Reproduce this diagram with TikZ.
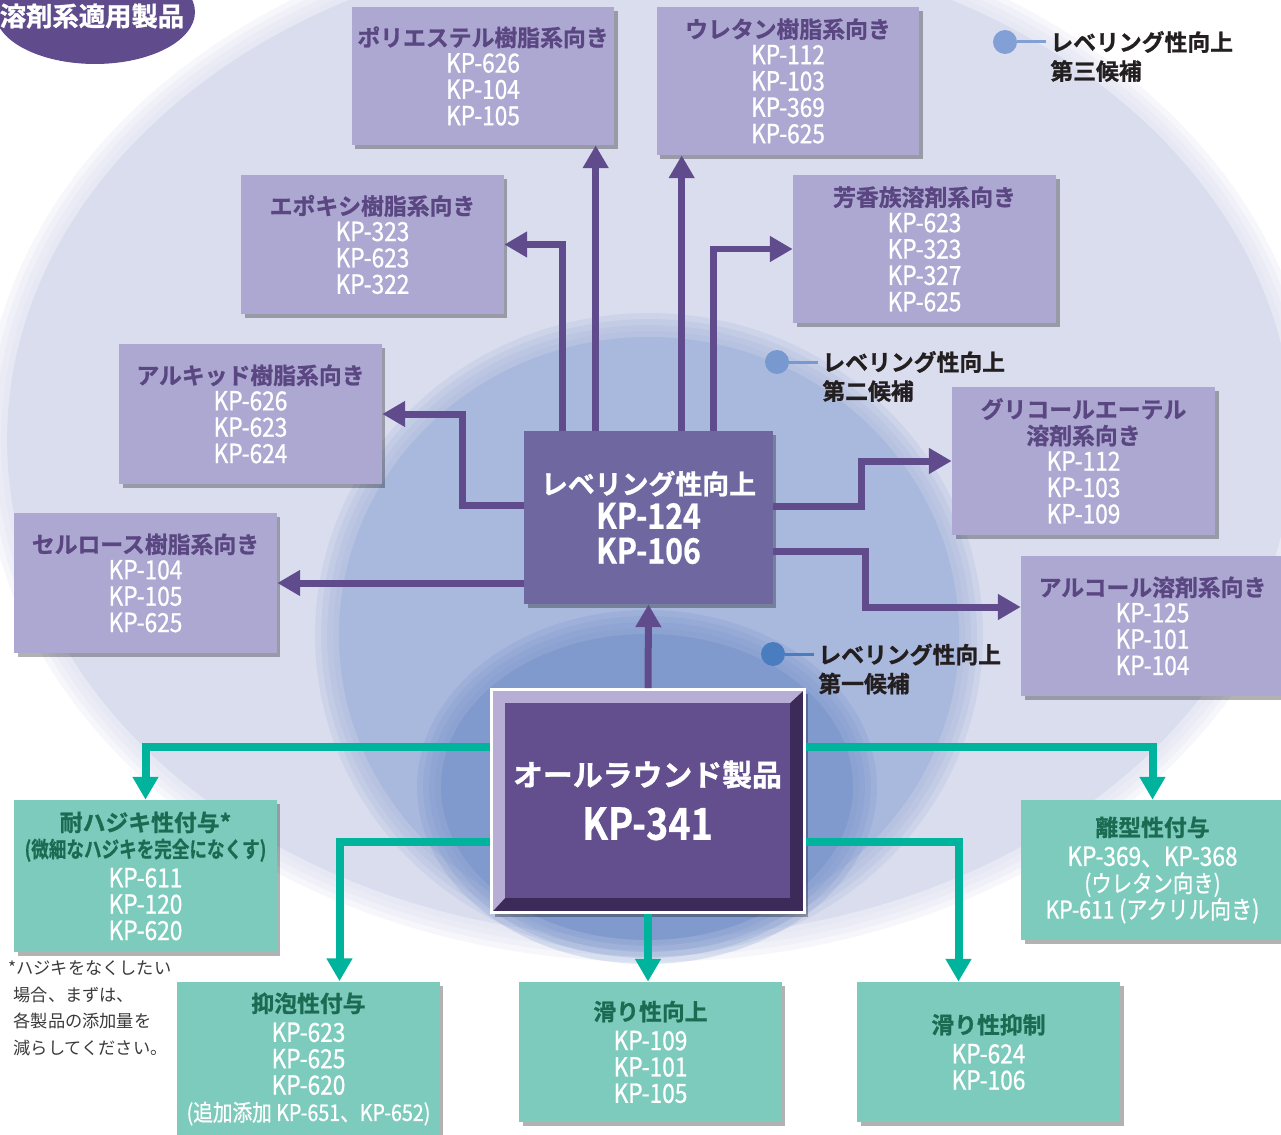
\documentclass[tikz,border=0pt]{standalone}
\usepackage{fontspec}
\setmainfont{Noto Sans CJK JP}[BoldFont={Noto Sans CJK JP Bold},BoldFeatures={FakeBold=1}]
\newfontfamily\kpf{Noto Sans CJK JP}[FakeStretch=0.86,FakeBold=0.8]
\newfontfamily\kpb{Noto Sans CJK JP Bold}[FakeStretch=0.86,FakeBold=0.6]
\newfontfamily\jpbc{Noto Sans CJK JP Bold}[FakeStretch=0.8,FakeBold=0.6]
\usetikzlibrary{arrows.meta,calc,shadows,positioning}

\definecolor{bgout}{HTML}{DADDEE}
\definecolor{bgmid}{HTML}{A9B8DD}
\definecolor{bgin}{HTML}{819ACE}
\definecolor{pboxc}{HTML}{ADA8D2}
\definecolor{ptitle}{HTML}{5A4782}
\definecolor{parrowc}{HTML}{604C8D}
\definecolor{levc}{HTML}{6F68A0}
\definecolor{prodc}{HTML}{634E8E}
\definecolor{bevlt}{HTML}{B8ADD5}
\definecolor{bevdk}{HTML}{3C2A58}
\definecolor{gboxc}{HTML}{7DCBBC}
\definecolor{gtitle}{HTML}{1B6B52}
\definecolor{garrowc}{HTML}{00B39D}
\definecolor{legc}{HTML}{231F20}
\definecolor{dotlt}{HTML}{82A0D5}
\definecolor{dotmid}{HTML}{7898D0}
\definecolor{dotdk}{HTML}{4A7CC0}
\definecolor{notec}{HTML}{3A3A3A}

\newcommand{\pttl}[1]{{\rmfamily\bfseries\fontsize{13}{15}\selectfont\color{ptitle}#1}}
\newcommand{\gttl}[1]{{\rmfamily\bfseries\fontsize{13}{15}\selectfont\color{gtitle}#1}}

\begin{document}
\begin{tikzpicture}[x=0.02cm,y=-0.02cm,>={Triangle[width=14pt,length=13pt]}]
  \tikzstyle{pbox}=[fill=pboxc,text=white,align=center,inner sep=0pt,
    minimum width=5.26cm,font=\kpf\fontsize{15}{15}\selectfont,
    drop shadow={shadow xshift=2pt,shadow yshift=-2.5pt,opacity=.3,fill=black}]
  \tikzstyle{gbox}=[pbox,fill=gboxc]
  \tikzstyle{parrow}=[->,draw=parrowc,line width=0.14cm]
  \tikzstyle{garrow}=[->,draw=garrowc,line width=0.16cm]
  \tikzstyle{legdot}=[circle,inner sep=0pt,minimum size=0.48cm]
  \tikzstyle{legline}=[line width=0.06cm]
  \tikzstyle{legtext}=[anchor=west,align=left,inner sep=0pt,text=legc,
    font=\bfseries\fontsize{13}{16.5}\selectfont]

  \clip (0,0) rectangle (1281,1135);

  % background ellipses, soft edges
  \foreach \d in {-0.24,-0.12,0,0.12,0.24}
    \fill[bgout,opacity=.25] (650,440) ellipse [x radius={(13.1+\d)*1cm},y radius={(10.2+\d)*1cm}];
  \fill[bgout] (650,440) ellipse [x radius=12.86cm,y radius=9.96cm];
  \foreach \d in {-0.24,-0.12,0,0.12,0.24}
    \fill[bgmid,opacity=.25] (649,635) ellipse [x radius={(6.44+\d)*1cm},y radius={(6.2+\d)*1cm}];
  \fill[bgmid] (649,635) ellipse [x radius=6.2cm,y radius=5.96cm];
  \foreach \d in {-0.24,-0.12,0,0.12,0.24}
    \fill[bgin,opacity=.25] (647,787) ellipse [x radius={(4.36+\d)*1cm},y radius={(3.3+\d)*1cm}];
  \fill[bgin] (647,787) ellipse [x radius=4.12cm,y radius=3.06cm];

  % corner tag
  \fill[parrowc] (95,12) ellipse [x radius=2cm,y radius=1.04cm];
  \node[text=white,font=\bfseries\fontsize{15}{15}\selectfont] (tag) at (92,16) {溶剤系適用製品};

  % legend
  \node[legdot,fill=dotlt] (d3) at (1005,42) {};
  \node[legtext] (t3) at (1050,56.5) {レベリング性向上\\第三候補};
  \draw[legline,dotlt] (d3) -- ($(t3.west |- d3)+(-4,0)$);
  \node[legdot,fill=dotmid] (d2) at (777,362) {};
  \node[legtext] (t2) at (822,376.5) {レベリング性向上\\第二候補};
  \draw[legline,dotmid] (d2) -- ($(t2.west |- d2)+(-4,0)$);
  \node[legdot,fill=dotdk] (d1) at (773,654) {};
  \node[legtext] (t1) at (818,669) {レベリング性向上\\第一候補};
  \draw[legline,dotdk] (d1) -- ($(t1.west |- d1)+(-4,0)$);

  % purple boxes
  \node[pbox,minimum height=2.76cm] (poly) at (483,76) {\pttl{ポリエステル樹脂系向き}\\KP-626\\KP-104\\KP-105};
  \node[pbox,minimum height=2.96cm] (ure) at (788,81) {\pttl{ウレタン樹脂系向き}\\KP-112\\KP-103\\KP-369\\KP-625};
  \node[pbox,minimum height=2.78cm] (epo) at (372.5,244.5) {\pttl{エポキシ樹脂系向き}\\KP-323\\KP-623\\KP-322};
  \node[pbox,minimum height=2.96cm] (arom) at (924.5,249) {\pttl{芳香族溶剤系向き}\\KP-623\\KP-323\\KP-327\\KP-625};
  \node[pbox,minimum height=2.8cm] (alk) at (250.5,414) {\pttl{アルキッド樹脂系向き}\\KP-626\\KP-623\\KP-624};
  \node[pbox,minimum height=2.8cm] (cell) at (145.5,583) {\pttl{セルロース樹脂系向き}\\KP-104\\KP-105\\KP-625};
  \node[pbox,minimum height=2.96cm] (glyc) at (1083.5,461) {\pttl{グリコールエーテル}\\\pttl{溶剤系向き}\\KP-112\\KP-103\\KP-109};
  \node[pbox,minimum height=2.8cm] (alc) at (1152.5,626) {\pttl{アルコール溶剤系向き}\\KP-125\\KP-101\\KP-104};

  % leveling box
  \node[fill=levc,text=white,align=center,inner sep=0pt,minimum width=4.98cm,minimum height=3.46cm,
    font=\kpb\fontsize{20}{19.8}\selectfont,
    drop shadow={shadow xshift=2pt,shadow yshift=-2.5pt,opacity=.3,fill=black}]
    (lev) at (648.5,517.5) {{\rmfamily\bfseries\fontsize{15.3}{19.8}\selectfont レベリング性向上}\\KP-124\\KP-106};

  % all-round product
  \node[draw=white,line width=0.06cm,fill=bevdk,minimum width=6.26cm,minimum height=4.46cm,
    drop shadow={shadow xshift=2pt,shadow yshift=-2.5pt,opacity=.3,fill=black}] (prod) at (648,801) {};
  \fill[bevlt] ($(prod.north west)+(3,3)$) -- ($(prod.north east)+(-3,3)$) -- ($(prod.north east)+(-16,15)$)
    -- ($(prod.north west)+(15,15)$) -- ($(prod.south west)+(15,-16)$) -- ($(prod.south west)+(3,-3)$) -- cycle;
  \node[fill=prodc,text=white,align=center,inner sep=0pt,minimum width=5.7cm,minimum height=3.9cm,
    font=\kpb\fontsize{25}{30.6}\selectfont] (face) at (647.5,800.5)
    {{\rmfamily\bfseries\fontsize{17}{30.6}\selectfont オールラウンド製品}\\KP-341};

  % green boxes
  \node[gbox,minimum height=3.04cm] (haji) at (145.5,876) {\gttl{耐ハジキ性付与*}\\{\jpbc\fontsize{12.5}{15}\selectfont\color{gtitle}(微細なハジキを完全になくす)}\\[2pt]KP-611\\KP-120\\KP-620};
  \node[gbox,minimum height=3.1cm] (foam) at (308.5,1059) {\gttl{抑泡性付与}\\[2pt]KP-623\\KP-625\\KP-620\\{\fontsize{13}{15}\selectfont(追加添加 KP-651、KP-652)}};
  \node[gbox,minimum height=2.8cm] (slipup) at (650.5,1052) {\gttl{滑り性向上}\\[2pt]KP-109\\KP-101\\KP-105};
  \node[gbox,minimum height=2.8cm] (slipdn) at (988.5,1052) {\gttl{滑り性抑制}\\[2pt]KP-624\\KP-106};
  \node[gbox,minimum height=2.8cm] (rel) at (1152.5,870) {\gttl{離型性付与}\\[2pt]KP-369、KP-368\\{\fontsize{13.5}{15}\selectfont(ウレタン向き)}\\{\fontsize{14}{15}\selectfont KP-611 (アクリル向き)}};

  % footnote
  \node[anchor=north west,align=left,inner sep=0pt,text=notec,font=\fontsize{9.8}{15.3}\selectfont] (note) at (8,960)
    {*ハジキをなくしたい\\\hspace*{3pt}場合、まずは、\\\hspace*{3pt}各製品の添加量を\\\hspace*{3pt}減らしてください。};

  % purple connectors
  \draw[parrow] ($(lev.north west)+(72,0)$) coordinate (a1) -- (a1 |- poly.south);
  \draw[parrow] ($(lev.north west)+(158,0)$) coordinate (a2) -- (a2 |- ure.south);
  \draw[parrow] ($(lev.north west)+(39,0)$) |- (epo.east);
  \draw[parrow] ($(lev.north west)+(190,0)$) |- (arom.west);
  \draw[parrow] ($(lev.north west)+(0,75)$) -| ($(alk.east)+(80,0)$) -- (alk.east);
  \draw[parrow] (lev.west |- cell.east) -- (cell.east);
  \draw[parrow] ($(lev.north east)+(0,76)$) -| ($(glyc.west)+(-90,0)$) -- (glyc.west);
  \draw[parrow] ($(lev.north east)+(0,121)$) -| ($(alc.west)+(-155,-19)$) -- ($(alc.west)+(0,-19)$);
  \draw[parrow] (prod.north) -- (lev.south);

  % green connectors
  \draw[garrow] ($(prod.north west)+(0,59)$) -| (haji.north);
  \draw[garrow] ($(prod.north west)+(0,154)$) -| ($(foam.north)+(31,0)$);
  \draw[garrow] (prod.south) -- (prod.south |- slipup.north);
  \draw[garrow] ($(prod.north east)+(0,154)$) -| ($(slipdn.north)+(-30,0)$);
  \draw[garrow] ($(prod.north east)+(0,59)$) -| (rel.north);
\end{tikzpicture}
\end{document}
